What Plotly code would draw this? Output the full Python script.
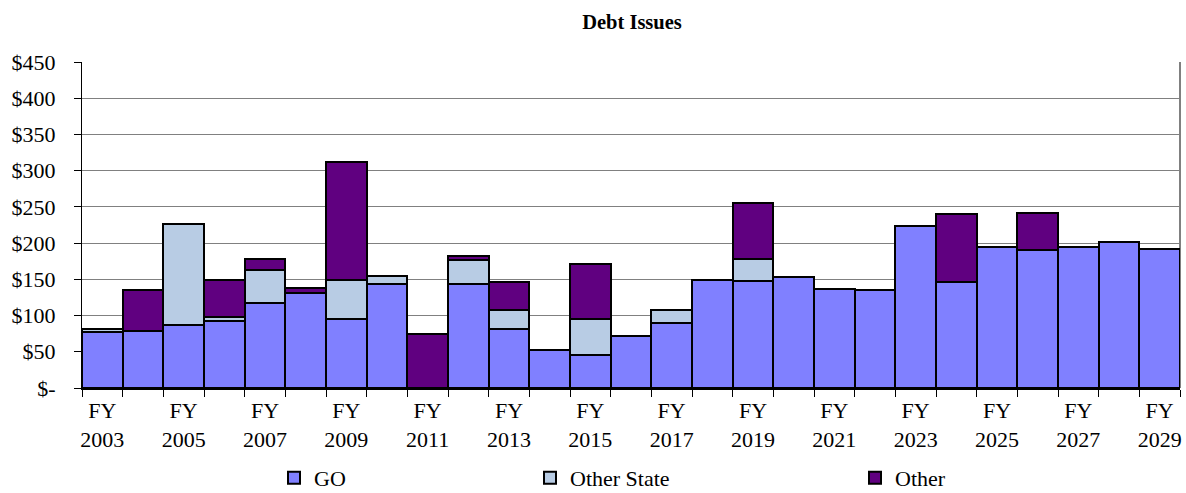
import plotly.graph_objects as go

# Fiscal years and debt issues by source ($ millions)
years = list(range(2003, 2030))
go_bonds = [77, 79, 87, 93, 118, 131, 95, 143, 0, 144, 81, 53, 46, 72, 90,
            149, 148, 153, 136, 135, 223, 147, 195, 190, 195, 202, 192]
other_state = [4, 0, 139, 5, 45, 0, 54, 12, 0, 33, 27, 0, 49, 0, 17,
               0, 30, 0, 0, 0, 0, 0, 0, 0, 0, 0, 0]
other = [0, 56, 0, 51, 15, 7, 163, 0, 74, 5, 38, 0, 76, 0, 0,
         0, 78, 0, 0, 0, 0, 93, 0, 51, 0, 0, 0]

y_ticks = list(range(0, 451, 50))
y_tick_text = ["$-"] + [f"${v}" for v in y_ticks[1:]]
x_label_years = years[::2]
x_tick_text = [f"FY<br>{y}" for y in x_label_years]

font_family = "Liberation Serif"
outline = dict(color="black", width=2)

series = [
    ("GO", go_bonds, "#8080FF", "legend"),
    ("Other State", other_state, "#B8CCE4", "legend2"),
    ("Other", other, "#600080", "legend3"),
]

fig = go.Figure()
for name, vals, color, leg in series:
    fig.add_trace(go.Bar(
        x=years, y=vals, name=name, legend=leg, showlegend=True,
        marker=dict(color=color, line=outline),
    ))

legend_common = dict(
    orientation="h", xref="container", yref="container",
    yanchor="middle", y=1 - 478 / 493, xanchor="left",
    font=dict(family=font_family, size=22, color="black"),
    bgcolor="rgba(0,0,0,0)", itemwidth=30, visible=True,
)

fig.update_layout(
    width=1186, height=493, showlegend=True,
    margin=dict(l=82, r=4, t=62, b=105),
    paper_bgcolor="white", plot_bgcolor="white",
    barmode="stack", bargap=0,
    font=dict(family=font_family, size=22, color="black"),
    title=dict(text="<b>Debt Issues</b>", x=632 / 1186, xanchor="center",
               y=1 - 22 / 493, yanchor="middle",
               font=dict(family=font_family, size=20.5, color="black")),
    legend=dict(legend_common, x=274 / 1186),
    legend2=dict(legend_common, x=530 / 1186),
    legend3=dict(legend_common, x=855 / 1186),
    xaxis=dict(
        range=[2002.5, 2029.5],
        tickmode="array", tickvals=x_label_years, ticktext=x_tick_text,
        ticks="", showgrid=False, zeroline=False, ticklabelstandoff=2,
        showline=True, linecolor="black", linewidth=2,
        minor=dict(tickmode="linear", tick0=2002.5, dtick=1,
                   ticks="outside", ticklen=7, tickcolor="black",
                   tickwidth=1, showgrid=False),
        tickfont=dict(family=font_family, size=22, color="black"),
    ),
    yaxis=dict(
        range=[0, 450],
        tickmode="array", tickvals=y_ticks, ticktext=y_tick_text,
        ticks="outside", ticklen=7, tickcolor="black", tickwidth=1,
        ticklabelstandoff=14,
        showgrid=True, gridcolor="#808080", gridwidth=1,
        zeroline=False, showline=True, linecolor="black", linewidth=1,
        tickfont=dict(family=font_family, size=22, color="black"),
    ),
    shapes=[dict(type="line", xref="paper", yref="paper",
                 x0=1, x1=1, y0=0, y1=1,
                 line=dict(color="#808080", width=2), layer="below")],
)

fig.write_html("out.html")
